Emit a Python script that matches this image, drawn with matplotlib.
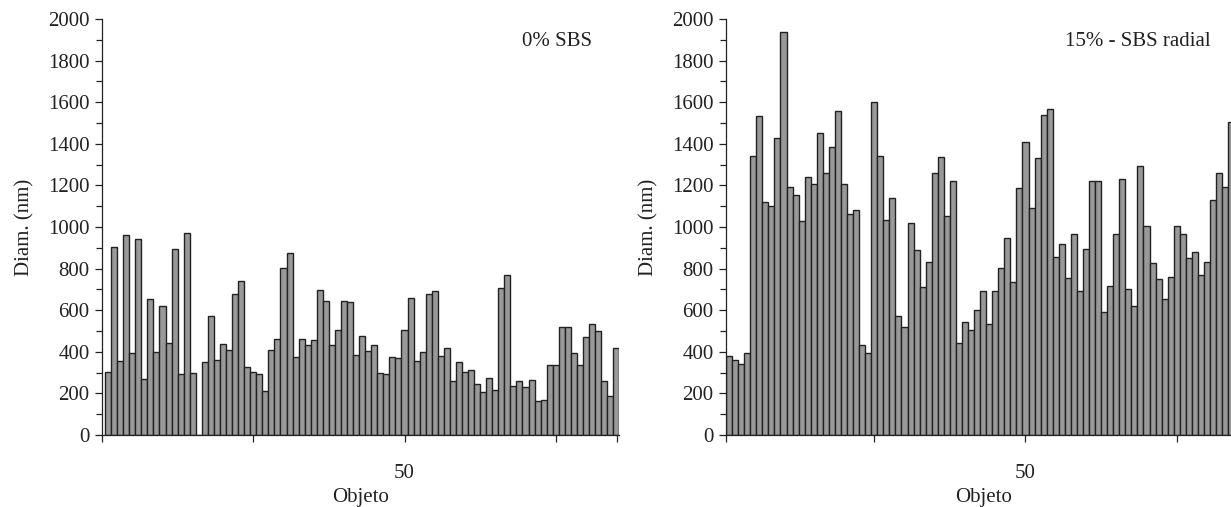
import numpy as np
import matplotlib
matplotlib.use('Agg')
from matplotlib import pyplot as plt

plt.rcParams['font.family'] = ['Liberation Serif', 'DejaVu Serif']
plt.rcParams['font.size'] = 15

# diametros (nm), objetos 1..n
diam_0 = [304, 905, 356, 962, 396, 941, 268, 655, 401, 620,
          441, 894, 295, 973, 298, 0, 350, 570, 359, 439,
          410, 676, 742, 329, 304, 292, 210, 410, 461, 805,
          873, 377, 461, 434, 457, 697, 644, 434, 503, 643,
          641, 383, 478, 404, 434, 298, 292, 377, 370, 503,
          657, 356, 397, 678, 692, 378, 418, 260, 350, 301,
          312, 245, 208, 276, 216, 708, 771, 237, 258, 232,
          266, 162, 170, 338, 338, 518, 518, 393, 337, 473,
          534, 498, 260, 186, 418]

diam_15 = [380, 359, 343, 396, 1340, 1535, 1119, 1103, 1429, 1936,
           1192, 1154, 1029, 1242, 1205, 1450, 1260, 1386, 1559, 1205,
           1064, 1082, 433, 396, 1599, 1343, 1034, 1141, 574, 521,
           1018, 888, 710, 832, 1261, 1335, 1053, 1221, 444, 542,
           505, 603, 694, 534, 691, 804, 946, 734, 1189, 1407,
           1091, 1330, 1537, 1566, 854, 920, 753, 965, 694, 893,
           1221, 1221, 593, 716, 965, 1231, 700, 622, 1295, 1005,
           825, 752, 652, 761, 1006, 965, 851, 881, 771, 833,
           1131, 1260, 1191, 1503]

labels = ['0% SBS', '15% - SBS radial']

W, H = 1231, 507
fig = plt.figure(figsize=(W / 100, H / 100), dpi=100)

px = 6.05  # pixeles por objeto
ax1 = fig.add_axes([102 / W, (H - 435) / H, 85.5 * px / W, 416 / H])
ax2 = fig.add_axes([726 / W, (H - 435) / H, 85.0 * px / W, 416 / H])


def panel(ax, data, xmin, xmax, minor_x, label, lx, ypad):
    x = np.arange(1, len(data) + 1)
    ax.bar(x, data, width=1.0, color='#999999', edgecolor='#222222',
           linewidth=1.0, zorder=2)
    ax.set_xlim(xmin, xmax)
    ax.set_ylim(0, 2000)
    ax.set_yticks(np.arange(0, 2001, 200))
    ax.set_yticks(np.arange(0, 2001, 100), minor=True)
    ax.set_xticks([50])
    ax.set_xticks(minor_x, minor=True)
    ax.spines['top'].set_visible(False)
    ax.spines['right'].set_visible(False)
    for s in ['left', 'bottom']:
        ax.spines[s].set_linewidth(0.9)
        ax.spines[s].set_color('#222222')
    ax.tick_params(axis='both', which='both', direction='out',
                   color='#222222', width=0.9, labelcolor='#222222')
    ax.tick_params(axis='y', which='major', length=5, pad=4)
    ax.tick_params(axis='y', which='minor', length=4)
    ax.tick_params(axis='x', which='both', length=5, pad=16)
    ax.set_ylabel('Diam. (nm)', labelpad=ypad, color='#222222')
    ax.set_xlabel('Objeto', labelpad=3.5, color='#222222')
    ax.text(lx, 1890, label, fontsize=15, ha='left', va='center',
            color='#222222')


panel(ax1, diam_0, 0, 85.5, [0, 25, 75, 85.2], labels[0], 69.4, 9.5)
panel(ax2, diam_15, 0.5, 85.5, [0.5, 25, 75], labels[1], 56.5, 10)

plt.savefig('out.png', dpi=100)
